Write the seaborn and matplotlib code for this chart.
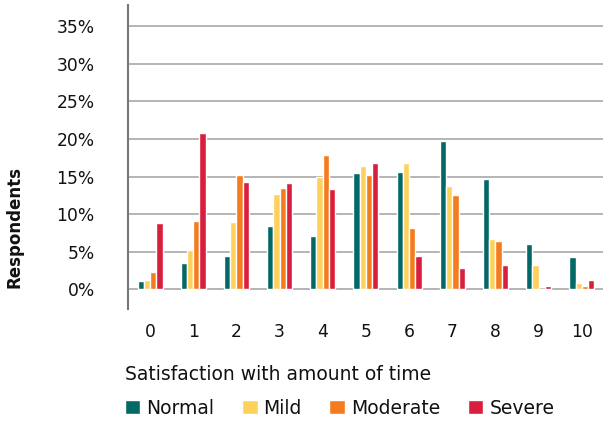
import matplotlib
matplotlib.use("Agg")
from matplotlib import pyplot as plt
from matplotlib.patches import Patch
import pandas as pd
import seaborn as sns

# ----------------- data (% of respondents)
scores = [str(i) for i in range(11)]
groups = ["Normal", "Mild", "Moderate", "Severe"]
normal = [1.1, 3.5, 4.5, 8.4, 7.1, 15.5, 15.6, 19.7, 14.7, 6.1, 4.3]
mild = [1.2, 5.2, 8.9, 12.7, 15.0, 16.4, 16.8, 13.7, 6.7, 3.2, 0.9]
moderate = [2.3, 9.1, 15.2, 13.5, 17.9, 15.2, 8.1, 12.5, 6.4, 0.0, 0.5]
severe = [8.8, 20.8, 14.3, 14.1, 13.3, 16.8, 4.5, 2.8, 3.2, 0.5, 1.3]
colors = ["#036866", "#FED15C", "#F57B1F", "#D91F3D"]
yticks = [0, 5, 10, 15, 20, 25, 30, 35]

df = pd.DataFrame({
    "score": scores * 4,
    "group": [g for g in groups for _ in scores],
    "pct": normal + mild + moderate + severe,
})

sns.set_style("white")
plt.rcParams["font.family"] = ["DejaVu Sans"]
plt.rcParams["text.color"] = "#111111"
plt.rcParams["xtick.color"] = "#111111"
plt.rcParams["ytick.color"] = "#111111"

fig = plt.figure(figsize=(6.03, 4.23), dpi=100)
ax = fig.add_axes([128 / 603, 1 - 309 / 423, 1 - 128 / 603, 304 / 423])

sns.barplot(data=df, x="score", y="pct", hue="group", hue_order=groups,
            palette=colors, width=0.58, saturation=1, legend=False,
            ax=ax, zorder=3)

ax.set_xlim(-0.51, 10.49)
ax.set_ylim(-2.6, 37.8)
ax.set_yticks(yticks)
ax.set_yticklabels([f"{t}%" for t in yticks], fontsize=12.3)
ax.tick_params(axis="y", length=0, pad=24)
ax.tick_params(axis="x", length=0, pad=10, labelsize=12.3)
for t in yticks:
    ax.axhline(t, color="#b4b4b4", lw=1.4, zorder=1)

for side in ["top", "right", "bottom"]:
    ax.spines[side].set_visible(False)
ax.spines["left"].set_color("#777777")
ax.spines["left"].set_linewidth(1.5)
ax.set_xlabel("")
ax.set_ylabel("")

fig.text(15 / 603, 1 - 227 / 423, "Respondents", rotation=90, fontsize=12,
         fontweight="bold", ha="center", va="center")
fig.text(125 / 603, 1 - 375 / 423, "Satisfaction with amount of time",
         fontsize=13.5, ha="left", va="center")

handles = [Patch(facecolor=c, label=g) for c, g in zip(colors, groups)]
fig.legend(handles=handles, loc="center left",
           bbox_to_anchor=(117 / 603, 1 - 408 / 423), ncol=4, frameon=False,
           fontsize=13.5, handlelength=0.85, handleheight=0.85,
           handletextpad=0.32, columnspacing=1.45, borderaxespad=0)

fig.savefig("out.png", dpi=100)
